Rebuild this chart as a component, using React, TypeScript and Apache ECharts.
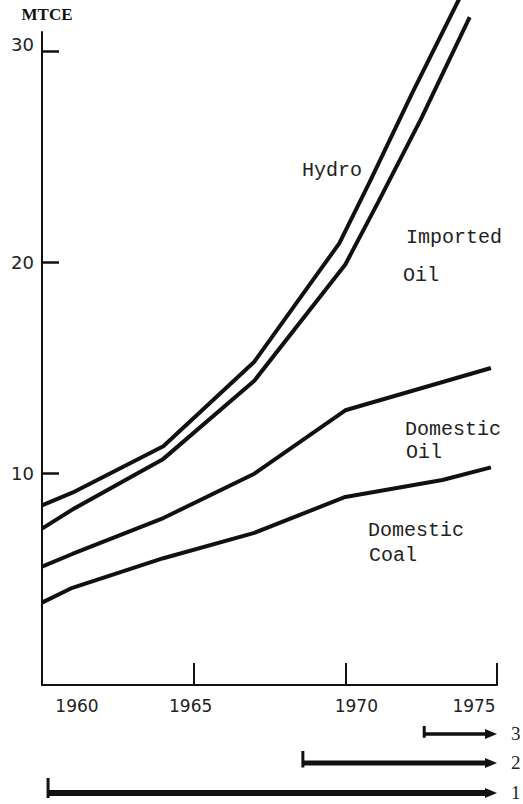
import React, { useEffect, useRef } from "react";
import * as echarts from "echarts";

// ---- data ----
const domesticCoal: [number, number][] = [
  [1960, 3.9], [1961, 4.6], [1964, 6.0], [1967, 7.2], [1970, 8.9], [1973.2, 9.7], [1974.8, 10.3],
];
const domesticOil: [number, number][] = [
  [1960, 5.6], [1961, 6.2], [1964, 7.9], [1967, 10.0], [1970, 13.0], [1974.8, 15.0],
];
const importedOil: [number, number][] = [
  [1960, 7.4], [1961, 8.3], [1964, 10.7], [1967, 14.4], [1970, 19.9], [1971.1, 22.9], [1972.5, 26.8], [1974.1, 31.6],
];
const hydro: [number, number][] = [
  [1960, 8.5], [1961, 9.1], [1964, 11.3], [1967, 15.3], [1969.8, 20.9], [1970.8, 23.8], [1972.2, 28.0], [1973.8, 32.6],
];

const yTickValues = [10, 20, 30];
const xTickValues = [1965, 1970, 1975];
const xLabelValues = [1960, 1965, 1970, 1975];

const periodLabels = ["3", "2", "1"];
const periodStarts = [1972.6, 1968.6, 1960.2];
const periodEnd = 1975;

const annotationTexts = ["Hydro", "Imported", "Oil", "Domestic", "Oil", "Domestic", "Coal"];

// ---- styles / layout (not data) ----
const INK = "#111";
const annotationPos = [
  [302, 170], [406, 237], [403, 275], [405, 429], [406, 452], [368, 530], [369, 555],
];
const periodRowY = [734, 763, 793];
const periodLineW = [3.5, 5, 6];
const periodTickHalf = [6, 10, 13];
const xLabelPad = [
  [0, 0, 0, 70], [0, 6, 0, 0], [0, 0, 0, 22], [0, 46, 0, 0],
];

export default function App() {
  const ref = useRef<HTMLDivElement>(null);

  useEffect(() => {
    if (!ref.current) return;
    const chart = echarts.init(ref.current, undefined, { renderer: "svg" });

    const lineSeries = (name: string, data: [number, number][]) => ({
      name,
      type: "line",
      data,
      symbol: "none",
      clip: false,
      smooth: false,
      lineStyle: { color: INK, width: 4 },
      z: 3,
    });

    const xRich: Record<string, any> = {};
    xLabelPad.forEach((p, i) => {
      xRich["s" + i] = {
        fontFamily: "DejaVu Sans",
        fontSize: 17,
        color: "#222",
        padding: p,
      };
    });

    chart.setOption({
      animation: false,
      backgroundColor: "#fff",
      grid: {
        left: 42,
        right: 26,
        top: 32,
        bottom: 119,
        containLabel: false,
        outerBoundsMode: "none",
      },
      xAxis: {
        type: "value",
        min: 1960,
        max: 1975,
        splitLine: { show: false },
        axisLine: { show: true, lineStyle: { color: INK, width: 2 } },
        axisTick: {
          show: true,
          inside: true,
          length: 22,
          customValues: xTickValues,
          lineStyle: { color: INK, width: 2 },
        },
        axisLabel: {
          customValues: xLabelValues,
          margin: 12,
          formatter: (v: number) => `{s${xLabelValues.indexOf(v)}|${v}}`,
          rich: xRich,
        },
      },
      yAxis: {
        type: "value",
        min: 0,
        max: 30.9,
        name: "MTCE",
        nameLocation: "end",
        nameGap: 9,
        nameTextStyle: {
          fontFamily: "Liberation Serif",
          fontWeight: "bold",
          fontSize: 17,
          color: INK,
          align: "center",
          padding: [0, 0, 0, 10],
        },
        splitLine: { show: false },
        axisLine: { show: true, lineStyle: { color: INK, width: 2 } },
        axisTick: {
          show: true,
          inside: true,
          length: 17,
          customValues: yTickValues,
          lineStyle: { color: INK, width: 2.5 },
        },
        axisLabel: {
          customValues: yTickValues,
          margin: 8,
          formatter: (v: number) => (v === 30 ? `{t|${v}}` : `{n|${v}}`),
          rich: {
            t: { fontFamily: "DejaVu Sans", fontSize: 18, color: "#222", padding: [0, 0, 14, 0] },
            n: { fontFamily: "DejaVu Sans", fontSize: 18, color: "#222" },
          },
        },
      },
      series: [
        lineSeries("Domestic Coal", domesticCoal),
        lineSeries("Domestic Oil", domesticOil),
        lineSeries("Imported Oil", importedOil),
        lineSeries("Hydro", hydro),
      ],
    });

    const px = (v: number) => chart.convertToPixel({ xAxisIndex: 0 }, v) as number;
    const elements: any[] = [];

    annotationTexts.forEach((t, i) => {
      elements.push({
        type: "text",
        x: annotationPos[i][0],
        y: annotationPos[i][1],
        style: {
          text: t,
          fontFamily: "Liberation Mono",
          fontSize: 20,
          fill: "#222",
          align: "left",
          verticalAlign: "middle",
        },
      });
    });

    periodLabels.forEach((lab, i) => {
      const x0 = px(periodStarts[i]);
      const x1 = px(periodEnd);
      const y = periodRowY[i];
      const w = periodLineW[i];
      elements.push({
        type: "line",
        shape: { x1: x0, y1: y, x2: x1 - 8, y2: y },
        style: { stroke: INK, lineWidth: w },
      });
      elements.push({
        type: "line",
        shape: { x1: x0, y1: y - periodTickHalf[i] - 2, x2: x0, y2: y + w / 2 + 2 },
        style: { stroke: INK, lineWidth: 3 },
      });
      elements.push({
        type: "polygon",
        shape: { points: [[x1 - 12, y - 5], [x1, y], [x1 - 12, y + 5]] },
        style: { fill: INK },
      });
      elements.push({
        type: "text",
        x: x1 + 14,
        y: y - 1,
        style: {
          text: lab,
          fontFamily: "Liberation Serif",
          fontSize: 19,
          fill: "#222",
          align: "left",
          verticalAlign: "middle",
        },
      });
    });

    chart.setOption({ graphic: { elements } });

    return () => chart.dispose();
  }, []);

  return (
    <div
      ref={ref}
      style={{ position: "fixed", left: 0, top: 0, width: 523, height: 804, background: "#fff" }}
    />
  );
}
